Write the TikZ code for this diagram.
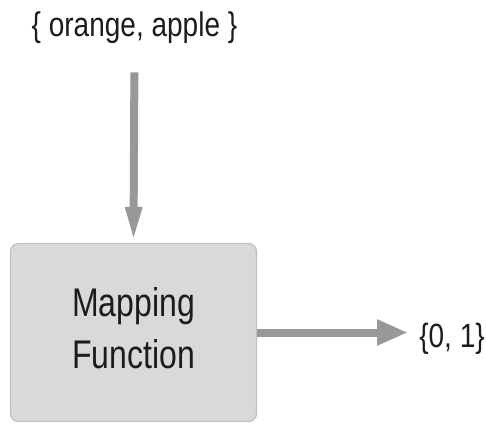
\documentclass[tikz,border=0pt]{standalone}
\usepackage{fontspec}
\setmainfont{Liberation Sans}
\usetikzlibrary{arrows.meta}
\definecolor{boxgray}{RGB}{217,217,217}
\definecolor{edgegray}{RGB}{192,192,192}
\definecolor{arrowgray}{RGB}{152,152,152}
\definecolor{textgray}{RGB}{28,28,28}
\newcommand{\tallbox}[2]{\scalebox{1}[#1]{\begin{tabular}{@{}c@{}}#2\end{tabular}}}
\tikzset{
  setlabel/.style = {inner sep = 0pt, text = textgray, font = \fontsize{28}{34}\selectfont},
  mapbox/.style = {draw = edgegray, line width = 1.2pt, fill = boxgray, rounded corners = 8pt,
                   minimum width = 246pt, minimum height = 178pt, inner sep = 0pt,
                   text = textgray, font = \fontsize{32}{41.5}\selectfont},
  flow/.style = {draw = arrowgray, line width = 8pt}
}
\begin{document}
\begin{tikzpicture}[x = 1pt, y = -1pt]
      \useasboundingbox (0, 0) rectangle (486, 425);
      \node (inset) at (134.5, 28.5) [setlabel] {\tallbox{1.22}{\{ orange, apple \}}};
      \node (map) at (133.5, 332.5) [mapbox] {\tallbox{1.25}{Mapping\\Function}};
      \node (outset) at (452, 339) [setlabel] {\tallbox{1.2}{\{0, 1\}}};
      \draw [flow, -{Triangle[length = 36pt, width = 15pt]}, shorten < = 23pt] (inset.south) -- (map.north);
      \draw [flow, -{Triangle[length = 31pt, width = 24pt]}, shorten > = 11pt] (map.east) -- (outset.west |- map.east);
    \end{tikzpicture}
\end{document}
